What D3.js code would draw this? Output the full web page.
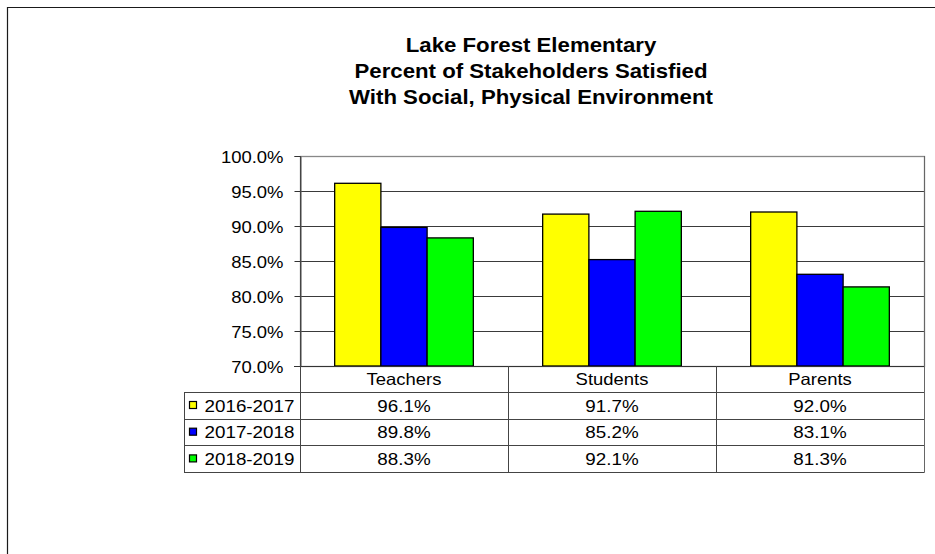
<!DOCTYPE html>
<html><head><meta charset="utf-8">
<script src="https://cdn.jsdelivr.net/npm/d3@7"></script>
<style>body{margin:0;background:#fff}svg{display:block}text{font-family:"Liberation Sans",Arial,sans-serif;fill:#000}</style>
</head><body><svg id="c" width="935" height="554"></svg>
<script>
const titleLines = ["Lake Forest Elementary", "Percent of Stakeholders Satisfied", "With Social, Physical Environment"];
const categories = ["Teachers", "Students", "Parents"];
const seriesNames = ["2016-2017", "2017-2018", "2018-2019"];
const seriesColors = ["#ffff00", "#0000ff", "#00ff00"];
const values2016 = [0.961, 0.917, 0.920];
const values2017 = [0.898, 0.852, 0.831];
const values2018 = [0.883, 0.921, 0.813];
const yTicks = [0.70, 0.75, 0.80, 0.85, 0.90, 0.95, 1.00];

const seriesValues = [values2016, values2017, values2018];
const svg = d3.select("#c");
const SX = 1.12;
const L = 300, R = 924, T = 156, B = 366;
const tableLeft = 184, rowH = 26.7;

const x0 = d3.scaleBand().domain(categories).range([L, R]).paddingInner(0).paddingOuter(0);
const x1 = d3.scaleBand().domain(seriesNames).range([0, x0.bandwidth()]).paddingInner(0).paddingOuter(0.75);
const y = d3.scaleLinear().domain([0.70, 1.00]).range([B, T]);
const fmt = d3.format(".1%");

function stext(g, x, y0, str, size, anchor, weight, sx) {
  return g.append("text").attr("transform", `translate(${x},${y0}) scale(${sx||SX},1)`)
    .attr("text-anchor", anchor).attr("font-size", size).attr("font-weight", weight || "normal").text(str);
}

// outer frame
svg.append("path").attr("d", "M7.5,554 V7.5 H935").attr("fill", "none").attr("stroke", "#1a1a1a").attr("stroke-width", 1.2);

// title
titleLines.forEach((t, i) => stext(svg, 531, 51.5 + i * 26.3, t, 19.5, "middle", "bold", 1.14));

// gridlines
svg.append("g").selectAll("line").data(yTicks.slice(1, -1)).join("line")
  .attr("x1", L).attr("x2", R).attr("y1", d => Math.round(y(d)) + 0.5).attr("y2", d => Math.round(y(d)) + 0.5)
  .attr("stroke", "#3a3a3a").attr("stroke-width", 1);

// plot border
svg.append("rect").attr("x", L + 0.5).attr("y", T + 0.5).attr("width", R - L).attr("height", B - T)
  .attr("fill", "none").attr("stroke", "#888").attr("stroke-width", 1.3);

// bars
const groups = svg.append("g").selectAll("g").data(categories).join("g")
  .attr("transform", d => `translate(${x0(d)},0)`);
groups.selectAll("rect").data((c, ci) => seriesNames.map((s, si) => ({ s, si, v: seriesValues[si][ci] })))
  .join("rect")
  .attr("x", d => x1(d.s)).attr("width", x1.bandwidth())
  .attr("y", d => y(d.v)).attr("height", d => B - y(d.v))
  .attr("fill", d => seriesColors[d.si]).attr("stroke", "#000").attr("stroke-width", 1.3);

// y axis
const yAxis = d3.axisLeft(y).tickValues(yTicks).tickFormat(fmt).tickSize(6).tickPadding(8);
const ag = svg.append("g").attr("transform", `translate(${L + 0.5},0)`).call(yAxis);
ag.select(".domain").attr("stroke", "#555");
ag.selectAll(".tick line").attr("stroke", "#333");
ag.selectAll(".tick text").each(function (d) {
  const t = d3.select(this);
  t.attr("font-size", 16.5).attr("font-family", "Liberation Sans, Arial, sans-serif")
   .attr("x", null).attr("dy", null)
   .attr("transform", `translate(-17,${6}) scale(${SX},1)`).attr("text-anchor", "end").attr("fill", "#000");
});

// bottom axis line
svg.append("line").attr("x1", 294).attr("x2", R).attr("y1", B + 0.5).attr("y2", B + 0.5).attr("stroke", "#333");

// data table
const tg = svg.append("g");
const tStroke = "#444";
const rowsY = [B, B + 26, B + 26 + rowH, B + 26 + 2 * rowH, B + 26 + 3 * rowH];
// horizontal lines
rowsY.slice(1).forEach(yy => tg.append("line").attr("x1", tableLeft).attr("x2", R + 0.5)
  .attr("y1", Math.round(yy) + 0.5).attr("y2", Math.round(yy) + 0.5).attr("stroke", tStroke));
// vertical lines
[L, ...categories.map(c => x0(c) + x0.bandwidth())].forEach(xx =>
  tg.append("line").attr("x1", xx + 0.5).attr("x2", xx + 0.5).attr("y1", (xx === L || xx === R) ? T : B).attr("y2", Math.round(rowsY[4]) + 0.5)
    .attr("stroke", xx === R ? "#666" : tStroke));
tg.append("line").attr("x1", tableLeft + 0.5).attr("x2", tableLeft + 0.5)
  .attr("y1", Math.round(rowsY[1]) + 0.5).attr("y2", Math.round(rowsY[4]) + 0.5).attr("stroke", tStroke);

// category labels
categories.forEach(c => stext(tg, x0(c) + x0.bandwidth() / 2, B + 19, c, 16.5, "middle"));
// rows
seriesNames.forEach((s, si) => {
  const top = rowsY[si + 1];
  tg.append("rect").attr("x", 189.5).attr("y", top + 9.5).attr("width", 7).attr("height", 7)
    .attr("fill", seriesColors[si]).attr("stroke", "#000").attr("stroke-width", 1.2);
  stext(tg, 204.5, top + 19.5, s, 16.8, "start");
  categories.forEach((c, ci) => stext(tg, x0(c) + x0.bandwidth() / 2, top + 19.5, fmt(seriesValues[si][ci]), 16.8, "middle"));
});
</script></body></html>
